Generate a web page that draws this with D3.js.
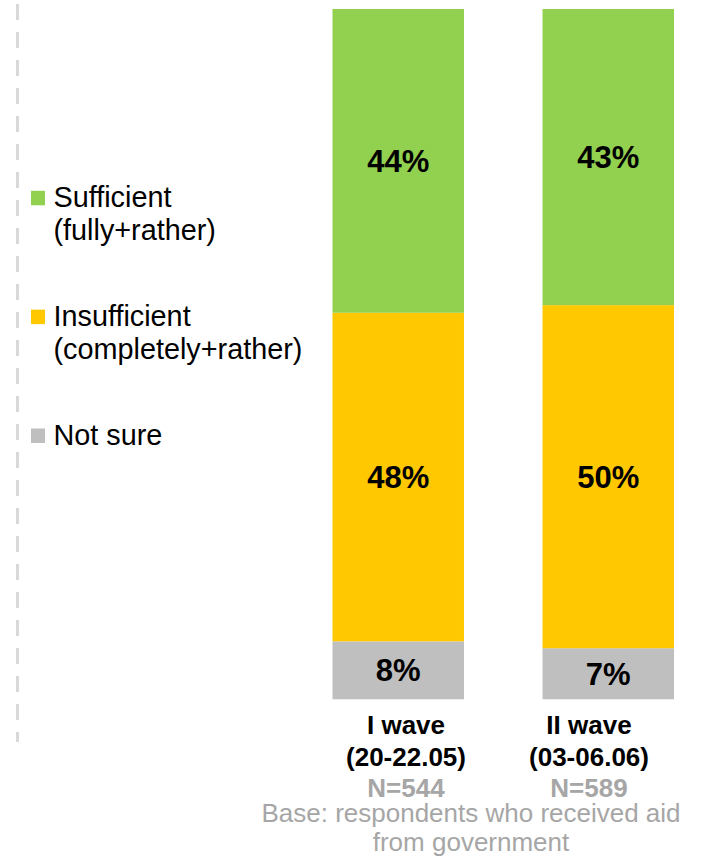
<!DOCTYPE html>
<html>
<head>
<meta charset="utf-8">
<script src="https://cdn.jsdelivr.net/npm/d3@7"></script>
<style>
html,body{margin:0;padding:0;background:#fff;}
svg{display:block;font-family:"Liberation Sans",Arial,sans-serif;}
</style>
</head>
<body>
<svg id="chart" width="708" height="857"></svg>
<script>
// ---- data (segment shares; labels shown rounded) ----
const waves = ["I wave", "II wave"];
const waveDates = ["(20-22.05)", "(03-06.06)"];
const waveN = ["N=544", "N=589"];
const seriesNames = ["Not sure", "Insufficient", "Sufficient"];
const legendLines = [["Sufficient", "(fully+rather)"], ["Insufficient", "(completely+rather)"], ["Not sure"]];
const notSure = [8.4, 7.4];
const insufficient = [47.6, 49.7];
const sufficient = [44.0, 42.9];
const baseNote = ["Base: respondents who received aid", "from government"];

const colors = {"Sufficient": "#92D050", "Insufficient": "#FFC800", "Not sure": "#BFBFBF"};

// ---- build stack ----
const rows = waves.map((w, i) => ({wave: w, "Not sure": notSure[i], "Insufficient": insufficient[i], "Sufficient": sufficient[i]}));
const stack = d3.stack().keys(seriesNames)(rows);

const svg = d3.select("#chart");

const x = d3.scaleBand().domain(waves).range([332.5, 674]).paddingInner(0.374).paddingOuter(0);
const y = d3.scaleLinear().domain([0, 100]).range([699.3, 9]);
const xLabel = d3.scalePoint().domain(waves).range([406, 589]);

// dashed separator line
svg.append("line")
  .attr("x1", 17.5).attr("x2", 17.5)
  .attr("y1", 4).attr("y2", 742)
  .attr("stroke", "#D9D9D9").attr("stroke-width", 3)
  .attr("stroke-dasharray", "16 12");

// bars
const layers = svg.append("g").selectAll("g").data(stack).join("g")
  .attr("fill", d => colors[d.key]);

layers.selectAll("rect").data(d => d.map(v => ({key: d.key, v}))).join("rect")
  .attr("x", d => x(d.v.data.wave))
  .attr("width", x.bandwidth())
  .attr("y", d => y(d.v[1]))
  .attr("height", d => y(d.v[0]) - y(d.v[1]));

// value labels
layers.selectAll("text").data(d => d.map(v => ({key: d.key, v}))).join("text")
  .attr("x", d => x(d.v.data.wave) + x.bandwidth() / 2)
  .attr("y", d => (y(d.v[0]) + y(d.v[1])) / 2)
  .attr("dy", "0.36em")
  .attr("text-anchor", "middle")
  .attr("fill", "#000")
  .attr("font-weight", "bold")
  .attr("font-size", 31)
  .text(d => Math.round(d.v[1] - d.v[0]) + "%");

// category labels
const cat = svg.append("g").attr("text-anchor", "middle").attr("font-weight", "bold").attr("font-size", 26);
waves.forEach((w, i) => {
  const cx = xLabel(w);
  cat.append("text").attr("x", cx).attr("y", 734).attr("fill", "#000").text(w);
  cat.append("text").attr("x", cx).attr("y", 766).attr("fill", "#000").text(waveDates[i]);
  cat.append("text").attr("x", cx).attr("y", 797).attr("fill", "#A6A6A6").text(waveN[i]);
});

// base note
svg.append("g").attr("text-anchor", "middle").attr("font-size", 26).attr("fill", "#A6A6A6")
  .selectAll("text").data(baseNote).join("text")
  .attr("x", 471)
  .attr("y", (d, i) => 822 + i * 29)
  .text(d => d);

// legend
const legendKeys = ["Sufficient", "Insufficient", "Not sure"];
const legendY = d3.scalePoint().domain(legendKeys).range([207.3, 445]);
const lg = svg.append("g").selectAll("g").data(legendKeys).join("g")
  .attr("transform", d => `translate(0,${legendY(d)})`);
lg.append("rect")
  .attr("x", 31).attr("y", -16.5).attr("width", 14).attr("height", 14.5)
  .attr("fill", d => colors[d]);
lg.append("text")
  .attr("font-size", 28.8).attr("fill", "#000")
  .selectAll("tspan").data((d, i) => legendLines[i]).join("tspan")
  .attr("x", 53.5)
  .attr("y", (d, i) => i * 32.5)
  .text(d => d);
</script>
</body>
</html>
